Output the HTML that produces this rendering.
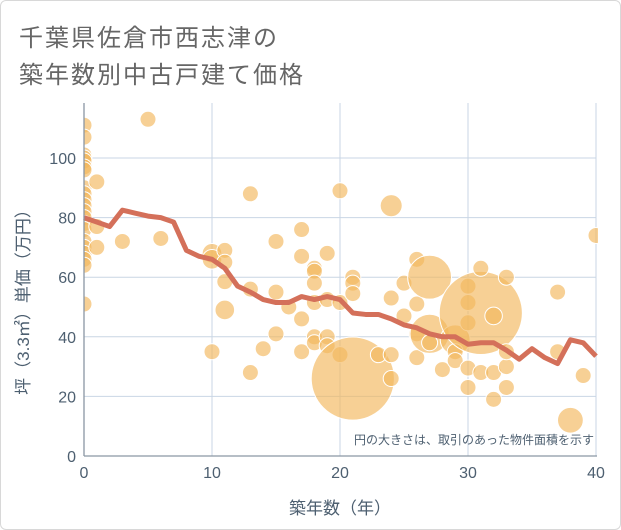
<!DOCTYPE html>
<html><head><meta charset="utf-8">
<style>
body{margin:0;background:#fff;}
#wrap{position:relative;width:619px;height:528px;border:1px solid #d8d8d8;border-radius:6px;overflow:hidden;background:#fff;font-family:"Liberation Sans","Noto Sans CJK JP",sans-serif;}
.title{position:absolute;left:18px;font-size:24px;color:#666;letter-spacing:2px;white-space:nowrap;}
</style></head><body>
<div id="wrap">
<div class="title" style="top:17px">千葉県佐倉市西志津の</div>
<div class="title" style="top:54px">築年数別中古戸建て価格</div>
<svg id="chart" width="621" height="530" style="position:absolute;left:-1px;top:-1px"></svg>
</div>
<script>
const xTicks=[0,10,20,30,40];
const yTicks=[0,20,40,60,80,100];
const lineYears=[0,1,2,3,4,5,6,7,8,9,10,11,12,13,14,15,16,17,18,19,20,21,22,23,24,25,26,27,28,29,30,31,32,33,34,35,36,37,38,39,40];
const linePrices=[80,78.5,77,82.5,81.5,80.5,80,78.5,69,67,66,63,57,55,52.5,51.5,51.5,53.5,52.5,53.5,52.5,48,47.5,47.5,46,44,43,41,40,40,37.5,38,38,35.5,32.5,36,33,31,39,38,33.5];
const bubbleX=[0,0,0,0,0,0,0,0,0,0,0,0,0,0,0,0,0,0,0,0,0,1,1,1,3,5,6,10,10,10,11,11,11,11,13,13,13,14,15,15,15,16,17,17,17,17,18,18,18,18,18,18,19,19,19,19,20,20,20,21,21,21,21,23,24,24,24,24,25,25,26,26,26,26,27,27,27,28,29,29,29,30,30,30,30,30,31,31,31,32,32,32,33,33,33,33,37,37,38,39,40];
const bubbleY=[111,107,101,100,99,97,96,90,88,86,84,82,80,78,76,72,70,68,66,64,51,92,77,70,72,113,73,68,66,35,69,65,58.5,49,88,56,28,36,72,55,41,50,76,67,46,35,63,62,58,51.5,40,38,68,52.5,40,37,89,51.5,34,26,60,58,54.5,34,84,53,34,26,58,47,66,51,41,33,60,41,38,29,39,35,32,57,51.5,44.7,29.5,23,48,63,28,47,28,19,60,30,23,35,55,35,12,27,74];
const bubbleArea=[1,1,1,1,1,1,1,1,1,1,1,1,1,1,1,1,1,1,1,1,1,1,1,1,1,1,1,1.5,1.5,1,1,1,1,1.5,1,1,1,1,1,1,1,1,1,1,1,1,1,1,1,1,1,1,1,1,1,1,1,1,1,27,1,1,1,1,1.9,1,1,1,1,1,1,1,1,1,7.5,6,1,1,3.5,1,1,1,1,1,1,1,27,1,1,1.2,1,1,1,1,1,1,1,1,2.6,1,1];
const NS="http://www.w3.org/2000/svg";
const svg=document.getElementById('chart');
const X0=84,X1=596,Y0=456,Y100=158;
const sx=v=>X0+(X1-X0)*v/40;
const sy=v=>Y0-(Y0-Y100)*v/100;
function mk(tag,attrs){const e=document.createElementNS(NS,tag);for(const k in attrs)e.setAttribute(k,attrs[k]);svg.appendChild(e);return e;}
// grid
xTicks.forEach(t=>{
  const g=mk('line',{x1:sx(t),x2:sx(t),y1:103,y2:Y0,stroke:'#c9d6e4','stroke-width':1});
  
  
  const l=mk('text',{x:sx(t),y:478,'text-anchor':'middle','font-size':16,fill:'#4d5f70','font-family':'Liberation Sans, sans-serif'});
  l.textContent=t;
  
  
});
yTicks.forEach(t=>{
  const g=mk('line',{x1:X0,x2:X1,y1:sy(t),y2:sy(t),stroke:'#c9d6e4','stroke-width':1});
  
  
  const l=mk('text',{x:76,y:sy(t)+6,'text-anchor':'end','font-size':16,fill:'#4d5f70','font-family':'Liberation Sans, sans-serif'});
  l.textContent=t;
  
  
});
// bubbles
const clip=mk('clipPath',{id:'pc'});
const cr=document.createElementNS(NS,'rect');cr.setAttribute('x',X0);cr.setAttribute('y',103);cr.setAttribute('width',X1-X0+2);cr.setAttribute('height',Y0-103);clip.appendChild(cr);
const bg=mk('g',{'clip-path':'url(#pc)'});
bubbleX.forEach((x,i)=>{
  const c=document.createElementNS(NS,'circle');
  c.setAttribute('cx',sx(x));c.setAttribute('cy',sy(bubbleY[i]));
  c.setAttribute('r',8*Math.sqrt(bubbleArea[i]));
  c.setAttribute('fill','#f2b75c');c.setAttribute('fill-opacity','0.65');
  c.setAttribute('stroke','#fff');c.setAttribute('stroke-width','1');
  
  
  bg.appendChild(c);
});
// line
const pts=lineYears.map((y,i)=>sx(y)+','+sy(linePrices[i])).join(' ');
const pl=mk('polyline',{points:pts,fill:'none',stroke:'#d4705a','stroke-width':5,'stroke-linejoin':'round'});


// axes
const ax=mk('line',{x1:X0,x2:X0,y1:103,y2:Y0,stroke:'#8a96a3','stroke-width':1.3});


const ax2=mk('line',{x1:X0,x2:X1+1,y1:Y0,y2:Y0,stroke:'#8a96a3','stroke-width':1.3});


const note=mk('text',{x:594,y:444,'text-anchor':'end','font-size':12,fill:'#4d5f70','font-family':'Liberation Sans, Noto Sans CJK JP, sans-serif'});
note.textContent='円の大きさは、取引のあった物件面積を示す';


const xt=mk('text',{x:340,y:514,'text-anchor':'middle','font-size':17,fill:'#4d5f70','font-family':'Liberation Sans, Noto Sans CJK JP, sans-serif'});
xt.textContent='築年数（年）';


const yt=mk('text',{x:0,y:0,'text-anchor':'middle','font-size':17,fill:'#4d5f70','font-family':'Liberation Sans, Noto Sans CJK JP, sans-serif',transform:'translate(29,298) rotate(-90)'});
yt.textContent='坪（3.3㎡）単価（万円）';


</script>
</body></html>
